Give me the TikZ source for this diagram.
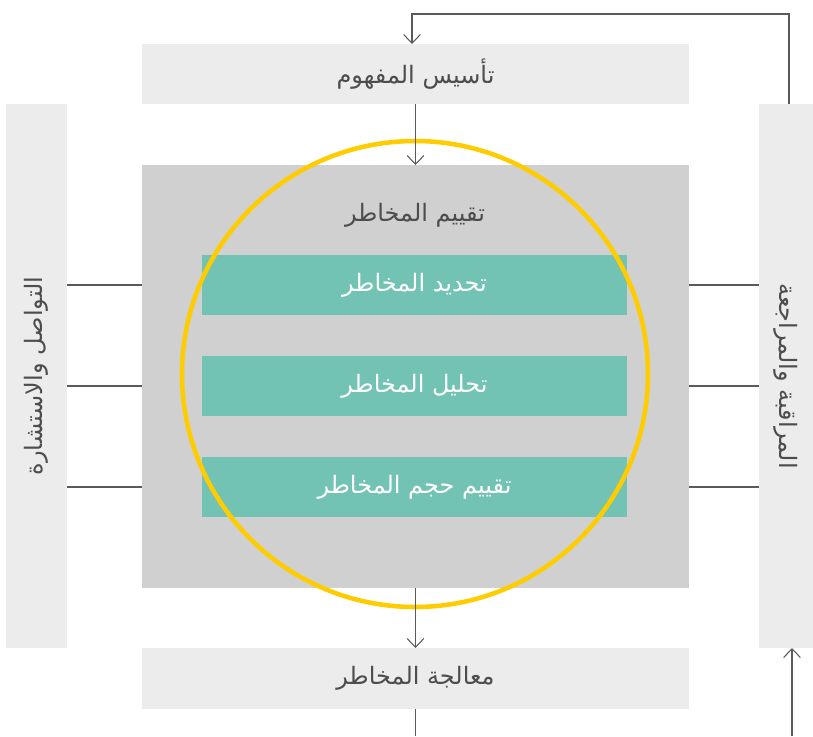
\documentclass[tikz,border=0pt]{standalone}
\usepackage{fontspec}
\usetikzlibrary{arrows.meta,fit}
\TeXXeTstate=1
\newfontfamily\arabicfont[Script=Arabic]{DejaVu Sans}
\definecolor{lightbox}{HTML}{ECECEC}
\definecolor{midbox}{HTML}{D0D0D0}
\definecolor{tealbox}{HTML}{72C3B4}
\definecolor{txtdark}{HTML}{4D4D4D}
\definecolor{linegray}{HTML}{5A5A5A}
\definecolor{ringyellow}{HTML}{FFCC00}
\tikzset{
  boxbase/.style={inner sep=0pt, outer sep=0pt, draw=none},
  lightrect/.style={boxbase, fill=lightbox, text=txtdark},
  midrect/.style={boxbase, fill=midbox},
  tealrect/.style={boxbase, fill=tealbox, text=white},
  lbl/.style={font=\arabicfont\fontsize{18pt}{20pt}\selectfont},
  conn/.style={draw=linegray, line width=0.8pt},
  arr/.style={conn, -{Straight Barb[length=6.5pt, width=12.5pt, line width=0.8pt]}},
  ring/.style={draw=ringyellow, line width=3.4pt}
}
\begin{document}
\begin{tikzpicture}[x=0.75pt, y=-0.75pt]
\useasboundingbox (0,0) rectangle (813,736);
% boxes
\node[lightrect, fit={(142,44) (689,104)}] (top) {};
\node[lbl, text=txtdark] at (top.center) {\beginR تأسيس المفهوم\endR};
\node[lightrect, fit={(6,104) (67,648)}] (lbox) {};
\node[lbl, text=txtdark, rotate=90] at (lbox.center) {\beginR التواصل والاستشارة\endR};
\node[lightrect, fit={(759,104) (813,648)}] (rbox) {};
\node[lbl, text=txtdark, rotate=-90] at (rbox.center) {\beginR المراقبة والمراجعة\endR};
\node[midrect, fit={(142,165) (689,588)}] (grey) {};
\node[lbl, text=txtdark] (greylbl) at (415,215) {\beginR تقييم المخاطر\endR};
\node[tealrect, fit={(202,255) (627,315)}] (t1) {};
\node[lbl, text=white] at (t1.center) {\beginR تحديد المخاطر\endR};
\node[tealrect, fit={(202,356) (627,416)}] (t2) {};
\node[lbl, text=white] at (t2.center) {\beginR تحليل المخاطر\endR};
\node[tealrect, fit={(202,457) (627,517)}] (t3) {};
\node[lbl, text=white] at (t3.center) {\beginR تقييم حجم المخاطر\endR};
\node[lightrect, fit={(142,648) (689,709)}] (bot) {};
\node[lbl, text=txtdark] at (bot.center) {\beginR معالجة المخاطر\endR};
% ring
\draw[ring] (415,374) circle[radius=174.75pt];
% coordinates
\coordinate (fbR) at (789,14);
\coordinate (fbL) at (412,14);
\coordinate (botend) at (415,736);
\coordinate (retstart) at (792,736);
% connectors
\draw[arr] (fbR |- rbox.north) -- (fbR) -- (fbL) -- (fbL |- top.north);
\draw[arr] (top.south) -- (grey.north);
\draw[arr] (grey.south) -- (bot.north);
\draw[conn] (bot.south) -- (bot.south |- botend);
\draw[arr] (retstart) -- (retstart |- rbox.south);
\foreach \t in {t1,t2,t3}{
  \draw[conn] (lbox.east |- \t.center) -- (grey.west |- \t.center);
  \draw[conn] (grey.east |- \t.center) -- (rbox.west |- \t.center);
}
\end{tikzpicture}
\end{document}
